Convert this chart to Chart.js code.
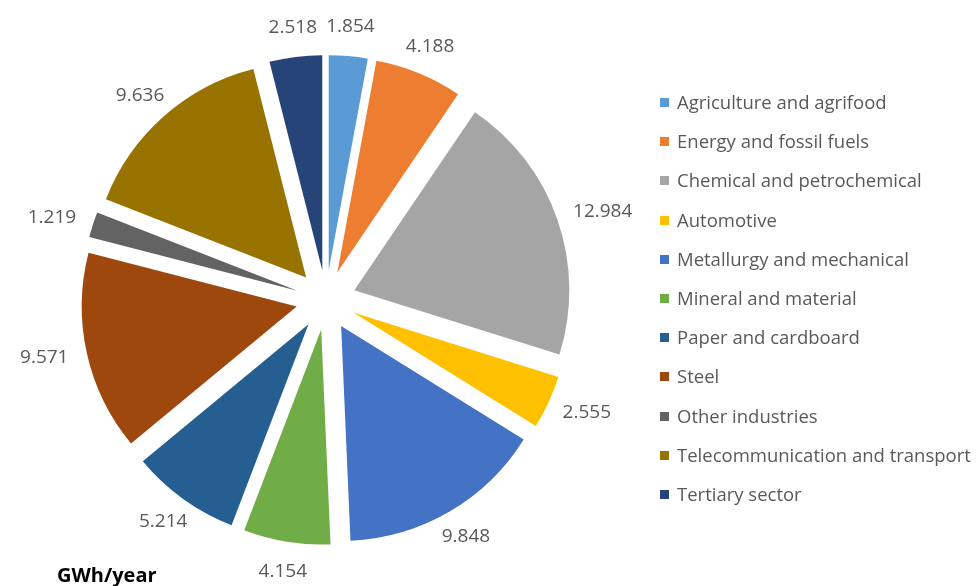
<!DOCTYPE html>
<html>
<head>
<meta charset="utf-8">
<script src="https://cdn.jsdelivr.net/npm/chart.js@4.4.1/dist/chart.umd.min.js"></script>
<style>
    body { margin: 0; background: #fff; }
    #wrap { position: relative; width: 979px; height: 586px; }
    #legend { position: absolute; left: 660px; top: 89px; font-family: "Open Sans", sans-serif; font-size: 18.5px; color: #595959; }
    #legend div { height: 39.2px; line-height: 26px; white-space: nowrap; }
    #legend span { display: inline-block; width: 9px; height: 9px; margin-right: 8px; vertical-align: 2px; }
    #unit { position: absolute; left: 57px; top: 561px; font-family: "Open Sans", sans-serif; font-size: 20px; font-weight: bold; color: #000; }
</style>
</head>
<body>
<div id="wrap">
    <canvas id="energyPie"></canvas>
    <div id="legend"></div>
    <div id="unit">GWh/year</div>
</div>
<script>
var sectors = ["Agriculture and agrifood", "Energy and fossil fuels", "Chemical and petrochemical",
    "Automotive", "Metallurgy and mechanical", "Mineral and material", "Paper and cardboard",
    "Steel", "Other industries", "Telecommunication and transport", "Tertiary sector"];
var consumption = [1.854, 4.188, 12.984, 2.555, 9.848, 4.154, 5.214, 9.571, 1.219, 9.636, 2.518];
var sectorColors = ["#5B9BD5", "#ED7D31", "#A5A5A5", "#FFC000", "#4472C4", "#70AD47",
    "#255E91", "#9E480E", "#636363", "#997300", "#264478"];

var explode = 30;

// pull every slice outward along its middle angle (like Excel's point explosion)
var explodedSlices = {
    id: "explodedSlices",
    beforeDatasetDraw: function (chart, args) {
        var ctx = chart.ctx;
        args.meta.data.forEach(function (arc) {
            var mid = (arc.startAngle + arc.endAngle) / 2;
            ctx.save();
            ctx.translate(Math.cos(mid) * explode, Math.sin(mid) * explode);
            arc.draw(ctx);
            ctx.restore();
        });
        return false;
    }
};

// value labels just outside each slice
var valueLabels = {
    id: "valueLabels",
    afterDatasetsDraw: function (chart) {
        var ctx = chart.ctx;
        var meta = chart.getDatasetMeta(0);
        ctx.save();
        ctx.font = '19px "Open Sans"';
        ctx.fillStyle = "#595959";
        ctx.textAlign = "center";
        ctx.textBaseline = "middle";
        meta.data.forEach(function (arc, i) {
            var p = arc.getProps(["x", "y", "startAngle", "endAngle", "outerRadius"], true);
            var mid = (p.startAngle + p.endAngle) / 2;
            var d = p.outerRadius + explode + 20;
            var text = consumption[i].toFixed(3);
            var w = ctx.measureText(text).width;
            var cx = p.x + Math.cos(mid) * (d + w / 2 * Math.abs(Math.cos(mid)));
            var cy = p.y + Math.sin(mid) * (d + 10 * Math.abs(Math.sin(mid)));
            ctx.fillText(text, cx, cy);
        });
        ctx.restore();
    }
};

var legendBox = document.getElementById("legend");
sectors.forEach(function (name, i) {
    var row = document.createElement("div");
    row.innerHTML = '<span style="background:' + sectorColors[i] + '"></span>' + name;
    legendBox.appendChild(row);
});

var energyCanvas = document.getElementById("energyPie");

var energyChart = new Chart(energyCanvas, {
    type: "pie",
    data: {
        labels: sectors,
        datasets: [{
            data: consumption,
            backgroundColor: sectorColors,
            borderWidth: 0
        }]
    },
    options: {
        responsive: true,
        maintainAspectRatio: false,
        animation: false,
        radius: 215,
        layout: { padding: { left: 0, right: 327, top: 14, bottom: 0 } },
        plugins: {
            legend: { display: false },
            tooltip: { enabled: false }
        }
    },
    plugins: [explodedSlices, valueLabels]
});
</script>
</body>
</html>
